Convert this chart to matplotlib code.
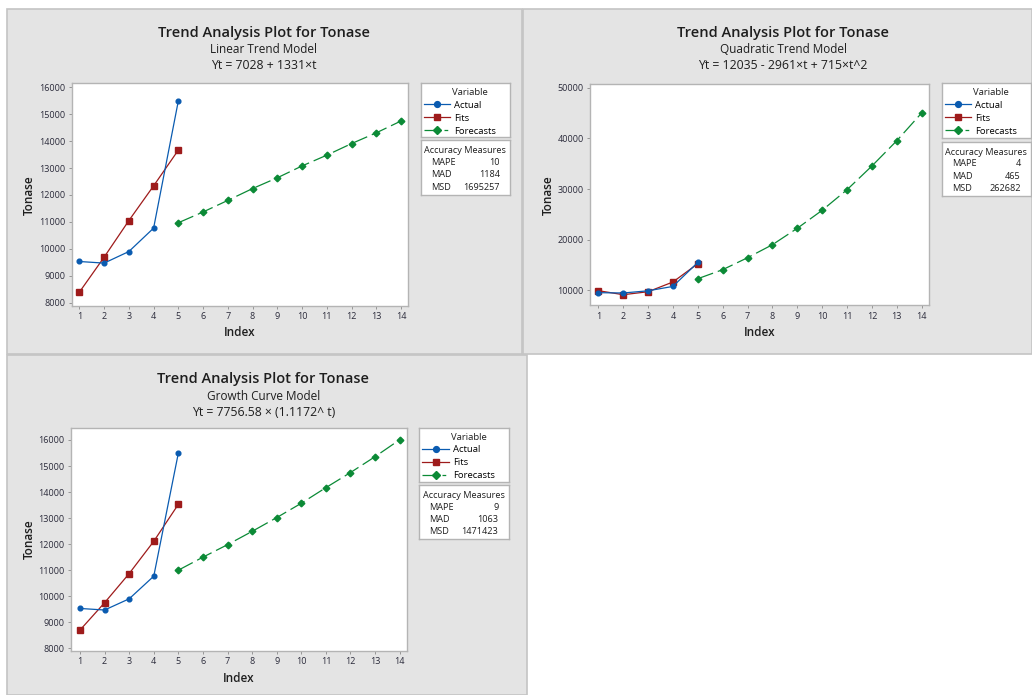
import matplotlib
matplotlib.use("Agg")
import matplotlib.pyplot as plt
from matplotlib.patches import Rectangle
from matplotlib.lines import Line2D

plt.rcParams['font.family'] = ['Open Sans', 'DejaVu Sans']

W, H = 1032, 695

# data
actual_index = [1, 2, 3, 4, 5]
forecast_index = [5, 6, 7, 8, 9, 10, 11, 12, 13, 14]
actual = [9530, 9470, 9900, 10770, 15500]

linear_fits = [8390, 9690, 11050, 12340, 13670]
linear_forecasts = [10970, 11370, 11800, 12240, 12640, 13080, 13480, 13910, 14310, 14750]

quad_fits = [9930, 9130, 9720, 11640, 15250]
quad_forecasts = [12290, 14070, 16430, 19000, 22240, 25790, 29850, 34530, 39520, 45000]

growth_fits = [8700, 9750, 10870, 12110, 13530]
growth_forecasts = [11000, 11500, 11980, 12490, 13020, 13570, 14170, 14750, 15360, 16010]

accuracy_names = ["MAPE", "MAD", "MSD"]
linear_accuracy = ["10", "1184", "1695257"]
quad_accuracy = ["4", "465", "262682"]
growth_accuracy = ["9", "1063", "1471423"]

x_ticks = list(range(1, 15))
ticks_small = [8000, 9000, 10000, 11000, 12000, 13000, 14000, 15000, 16000]
ticks_quad = [10000, 20000, 30000, 40000, 50000]

BLUE = '#0a5bb0'
RED = '#9e1b1b'
GREEN = '#0b8a36'
TXT = '#1e1e1e'

fig = plt.figure(figsize=(W / 100, H / 100), dpi=100)


def px_axes(x0, y0, x1, y1):
    return fig.add_axes([x0 / W, 1 - y1 / H, (x1 - x0) / W, (y1 - y0) / H])


def ftext(x, y, s, **kw):
    fig.text(x / W, 1 - y / H, s, color=TXT, **kw)


def box_axes(rect):
    bax = px_axes(*rect)
    bax.set_xticks([])
    bax.set_yticks([])
    for sp in bax.spines.values():
        sp.set_color('#b4b4b4')
        sp.set_linewidth(1.0)
    return bax


def draw_panel(panel, title_y, cx, model, equation, plot, xlim, ylim, yticks,
               fits, forecasts, leg_box, acc_box, acc_values):
    x0, y0, x1, y1 = panel
    fig.patches.append(Rectangle((x0 / W, 1 - y1 / H), (x1 - x0) / W, (y1 - y0) / H,
                                 transform=fig.transFigure, facecolor='#e4e4e4',
                                 edgecolor='#c4c4c4', lw=1.2, zorder=-5))
    ftext(cx, title_y, "Trend Analysis Plot for Tonase", ha='center', va='center',
          fontsize=10.5, fontweight='semibold')
    ftext(cx, title_y + 17, model, ha='center', va='center', fontsize=8.5)
    ftext(cx, title_y + 33, equation, ha='center', va='center', fontsize=8.8)

    ax = px_axes(*plot)
    ax.set_facecolor('white')
    ax.plot(actual_index, actual, color=BLUE, lw=0.9, marker='o', ms=3.4, zorder=3)
    ax.plot(actual_index, fits, color=RED, lw=0.9, marker='s', ms=3.8, zorder=2)
    ax.plot(forecast_index, forecasts, color=GREEN, lw=0.9, marker='D', ms=3.4,
            linestyle=(0, (13, 4)), zorder=2)
    ax.set_xlim(*xlim)
    ax.set_ylim(*ylim)
    ax.set_xticks(x_ticks)
    ax.set_yticks(yticks)
    ax.tick_params(labelsize=6.5, length=2.5, width=0.6, color='#888888',
                   labelcolor='#2a2a3a', pad=2)
    for sp in ax.spines.values():
        sp.set_color('#b4b4b4')
        sp.set_linewidth(1.0)

    px0, py0, px1, py1 = plot
    ftext(px0 - 42, (py0 + py1) / 2, "Tonase", rotation=90, ha='center', va='center',
          fontsize=8.5, fontweight='semibold')
    ftext((px0 + px1) / 2, py1 + 27, "Index", ha='center', va='center',
          fontsize=8.5, fontweight='semibold')

    # legend box
    lx0, ly0, lx1, ly1 = leg_box
    lax = box_axes(leg_box)
    ftext((lx0 + lx1) / 2 + 5, ly0 + 9.5, "Variable", ha='center', va='center', fontsize=6.8)
    handles = [
        Line2D([], [], color=BLUE, lw=0.9, marker='o', ms=4.2),
        Line2D([], [], color=RED, lw=0.9, marker='s', ms=4.6),
        Line2D([], [], color=GREEN, lw=0.9, marker='D', ms=4.2, linestyle=(0, (12, 4, 3, 20))),
    ]
    lax.legend(handles, ["Actual", "Fits", "Forecasts"], loc='upper left',
               bbox_to_anchor=(3.0 / (lx1 - lx0), 1 - 17.5 / (ly1 - ly0)),
               frameon=False, fontsize=6.8, handlelength=2.8, handletextpad=0.45,
               labelspacing=0.42, borderaxespad=0.0, borderpad=0.0)

    # accuracy box
    bx0, by0, bx1, by1 = acc_box
    box_axes(acc_box)
    ftext((bx0 + bx1) / 2, by0 + 10.5, "Accuracy Measures", ha='center', va='center',
          fontsize=6.6)
    for i, (name, val) in enumerate(zip(accuracy_names, acc_values)):
        ftext(bx0 + 10, by0 + 22 + 12.5 * i, name, ha='left', va='center', fontsize=6.6)
        ftext(bx0 + 79, by0 + 22 + 12.5 * i, val, ha='right', va='center', fontsize=6.6)


draw_panel((7, 9, 521.5, 354), 32.7, 264, "Linear Trend Model", "Yt = 7028 + 1331\u00d7t",
           (71.7, 83.3, 408, 306), (0.69, 14.28), (7877, 16149), ticks_small,
           linear_fits, linear_forecasts,
           (420.7, 83.3, 510, 136.7), (420.7, 140.3, 510, 195), linear_accuracy)

draw_panel((523.3, 9, 1031.5, 354), 32.7, 783, "Quadratic Trend Model",
           "Yt = 12035 - 2961\u00d7t + 715\u00d7t^2",
           (590, 84, 929.3, 305.3), (0.666, 14.31), (7040, 50730), ticks_quad,
           quad_fits, quad_forecasts,
           (941.7, 83.3, 1030.7, 137.7), (941.7, 141.7, 1030.7, 196), quad_accuracy)

draw_panel((7, 355, 527, 694.5), 379, 263.3, "Growth Curve Model",
           "Yt = 7756.58 \u00d7 (1.1172^ t)",
           (71, 427.7, 407.3, 651), (0.634, 14.31), (7896, 16472), ticks_small,
           growth_fits, growth_forecasts,
           (419.3, 427.7, 509, 481.7), (419.3, 485, 509, 539.3), growth_accuracy)

fig.savefig("out.png", dpi=100, facecolor='white')
